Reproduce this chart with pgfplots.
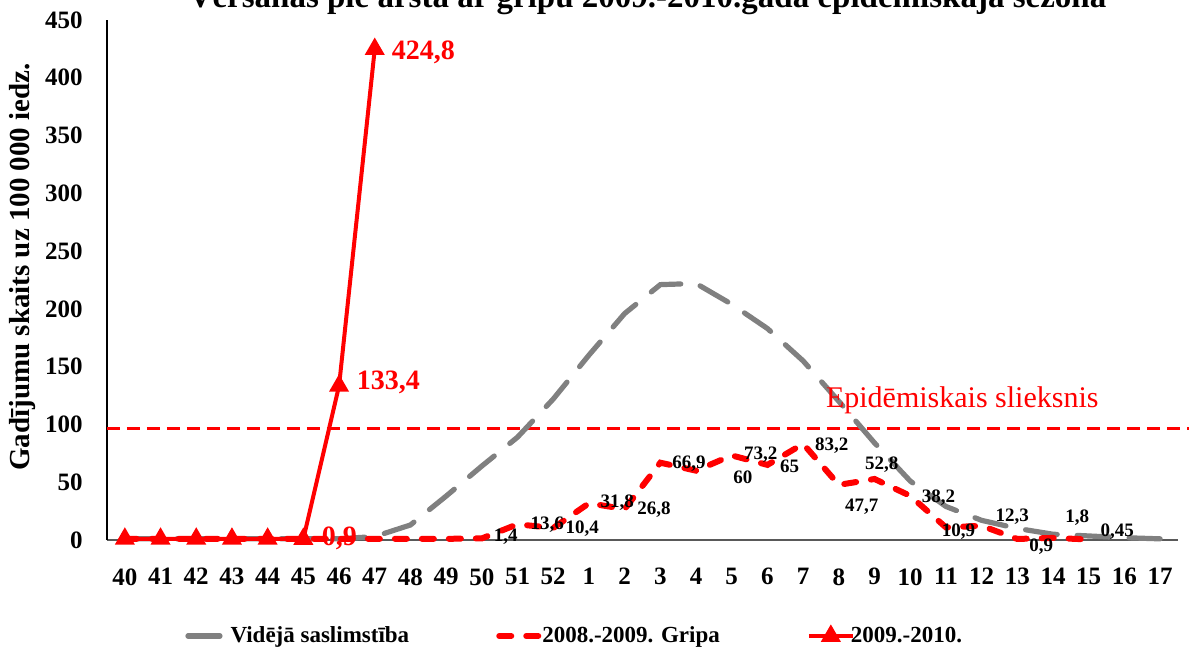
\documentclass[border=0pt]{standalone}
\usepackage{fontspec}
\setmainfont{Liberation Serif}
\usepackage{pgfplots}
\usepackage{pgfplotstable}
\pgfplotsset{compat=1.18}
\definecolor{avggray}{RGB}{128,128,128}
\definecolor{fred}{RGB}{255,0,0}

\pgfplotstableread{
x y
0 1
1 1
2 1
3 1
4 1
5 1
6 1
7 3
8 13
9 38
10 64
11 89
12 122
13 160
14 196
15 221
16 222
17 204
18 183
19 155
20 120
21 84
22 51
23 29
24 17
25 10
26 5
27 3.5
28 2
29 1
}\avgdata

\pgfplotstableread{
x y
0 1
1 1
2 1
3 1
4 1
5 1
6 1
7 1
8 1
9 1
10 1.4
11 13.6
12 10.4
13 31.8
14 26.8
15 66.9
16 60
17 73.2
18 65
19 83.2
20 47.7
21 52.8
22 38.2
23 10.9
24 12.3
25 0.9
26 1.8
27 0.45
}\fluA

\pgfplotstableread{
x y
0 1
1 1
2 1
3 1
4 1
5 0.9
6 133.4
7 424.8
}\fluB

\begin{document}
\begin{tikzpicture}
\useasboundingbox (-53.5pt,-54.5pt) rectangle (541.5pt,270pt);
\begin{axis}[
  at={(0pt,0pt)}, anchor=south west,
  scale only axis, width=535.5pt, height=260pt,
  xmin=-0.5, xmax=29.5, ymin=0, ymax=450,
  axis x line=bottom, axis y line=left,
  axis line style={-},
  x axis line style={-, draw=black!65, line width=0.8pt},
  y axis line style={-, draw=black, line width=0.8pt},
  xtick={0,...,29},
  xticklabels={40,41,42,43,44,45,46,47,48,49,50,51,52,1,2,3,4,5,6,7,8,9,10,11,12,13,14,15,16,17},
  ytick={0,50,...,450},
  major tick length=0pt,
  /pgf/number format/assume math mode=true,
  tick label style={font=\fontsize{12.5}{14}\selectfont\bfseries, inner sep=0pt},
  xticklabel style={anchor=north, yshift=-14pt},
  yticklabel style={anchor=east, xshift=-12pt},
  clip=false,
  legend columns=3,
  legend style={draw=none, fill=none, at={(axis description cs:0.0728,-0.1846)}, anchor=west, inner sep=0pt,
    nodes={inner sep=1.5pt},
    font=\fontsize{11.5}{13}\selectfont\bfseries,
    /tikz/every even column/.append style={column sep=42pt},
    /tikz/every odd column/.append style={column sep=-3.5pt}},
  legend image code/.code={\draw[#1,mark repeat=2,mark phase=2] plot coordinates {(0pt,0pt) (11pt,0pt) (22pt,0pt)};},
]
\addplot[fred, line width=1.5pt, dash pattern=on 6.5pt off 3.5pt, forget plot] coordinates {(-0.5,96.9) (29.8,96.9)};
\addplot[avggray, line width=2.6pt, line cap=round, dash pattern=on 16pt off 10pt, mark=none] table {\avgdata};
\addlegendentry{Vidējā saslimstība}
\addplot[fred, line width=3pt, line cap=round, dash pattern=on 6pt off 7.5pt, mark=none] table {\fluA};
\addlegendentry{2008.-2009. Gripa}
\addplot[fred, line width=2pt, mark=triangle*, mark size=3.8pt, mark options={solid, fill=fred}] table {\fluB};
\addlegendentry{2009.-2010.}

\node[text=fred, font=\fontsize{15}{17}\selectfont\rmfamily, anchor=west, inner sep=0pt] at (axis cs:19.63,120.8) {Epidēmiskais slieksnis};

\node[text=fred, font=\fontsize{14}{16}\selectfont\bfseries, anchor=west, inner sep=0pt] at (axis cs:7.47,422.3) {424,8};
\node[text=fred, font=\fontsize{14}{16}\selectfont\bfseries, anchor=west, inner sep=0pt] at (axis cs:6.49,136.7) {133,4};
\node[text=fred, font=\fontsize{14}{16}\selectfont\bfseries, anchor=west, inner sep=0pt] at (axis cs:5.51,1.7) {0,9};

\begin{scope}[every node/.style={font=\fontsize{9.5}{10}\selectfont\bfseries, text=black, inner sep=0pt}]
\node at (axis cs:10.67,2.6) {1,4};
\node at (axis cs:11.83,13) {13,6};
\node at (axis cs:12.81,9.5) {10,4};
\node at (axis cs:13.79,32) {31,8};
\node at (axis cs:14.82,26) {26,8};
\node at (axis cs:15.8,65.8) {66,9};
\node at (axis cs:17.31,54.5) {60};
\node at (axis cs:17.81,73.6) {73,2};
\node at (axis cs:18.62,64) {65};
\node at (axis cs:19.8,81.3) {83,2};
\node at (axis cs:20.64,28.6) {47,7};
\node at (axis cs:21.2,65) {52,8};
\node at (axis cs:22.79,36.3) {38,2};
\node at (axis cs:23.35,6.9) {10,9};
\node at (axis cs:24.86,20) {12,3};
\node at (axis cs:25.67,-6) {0,9};
\node at (axis cs:26.68,19) {1,8};
\node at (axis cs:27.8,6.9) {0,45};
\end{scope}
\end{axis}
\node[rotate=90, font=\fontsize{14.5}{16}\selectfont\bfseries] at (-42pt,136.5pt) {Gadījumu skaits uz 100 000 iedz.};
\node[anchor=base, font=\fontsize{16.5}{18}\selectfont\bfseries] at (270.25pt,266pt) {Vēršanās pie ārsta ar gripu 2009.-2010.gada epidēmiskajā sezonā};
\end{tikzpicture}
\end{document}
